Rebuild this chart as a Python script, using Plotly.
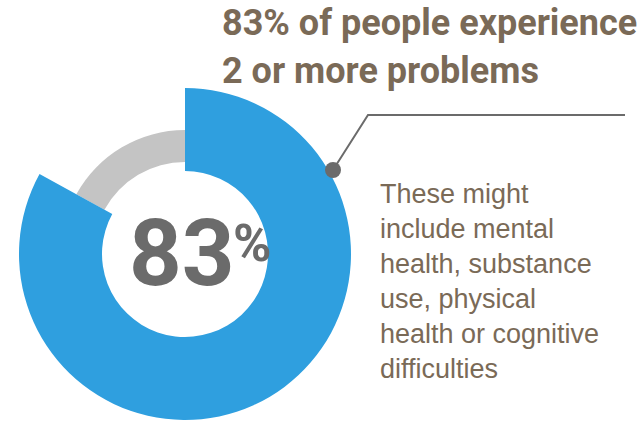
import plotly.graph_objects as go

# ---- data ----
labels = ["2 or more problems", "Other"]
values = [83, 17]
big_number = "83"
title_lines = ["83% of people experience", "2 or more problems"]
body_lines = ["These might", "include mental", "health, substance",
              "use, physical", "health or cognitive", "difficulties"]

W, H = 642, 421
BLUE = "#2f9fdf"
GREY_RING = "#c4c4c4"
NUM_GREY = "#6b6b6b"
BROWN = "#7a6a57"
CLEAR = "rgba(0,0,0,0)"


def px(x):
    return x / W


def py(y):
    return 1 - y / H


fig = go.Figure()

# grey thinner ring (remaining share)
fig.add_trace(go.Pie(
    labels=labels, values=values, sort=False, direction="clockwise", rotation=0,
    hole=92 / 124,
    domain=dict(x=[px(185 - 124), px(185 + 124)], y=[py(254 + 124), py(254 - 124)]),
    marker=dict(colors=[CLEAR, GREY_RING], line=dict(width=0)),
    textinfo="none", hoverinfo="skip", showlegend=False,
))
# blue thick ring (main share)
fig.add_trace(go.Pie(
    labels=labels, values=values, sort=False, direction="clockwise", rotation=0,
    hole=83 / 166,
    domain=dict(x=[px(185 - 166), px(185 + 166)], y=[py(254 + 166), py(254 - 166)]),
    marker=dict(colors=[BLUE, CLEAR], line=dict(width=0)),
    textinfo="none", hoverinfo="skip", showlegend=False,
))

BOLD = "Roboto, Arial, sans-serif"
BODY = "Liberation Sans, Arial, sans-serif"

ann = []
ann.append(dict(text=f"<b>{big_number}</b>", x=px(182), y=py(253.5), xanchor="center",
                yanchor="middle", showarrow=False,
                font=dict(family=BOLD, size=92, color=NUM_GREY)))
ann.append(dict(text="<b>%</b>", x=px(231), y=py(243), xanchor="left", yanchor="middle",
                showarrow=False, font=dict(family=BOLD, size=52, color=NUM_GREY)))

title_y = [23, 71]
for t, yy in zip(title_lines, title_y):
    ann.append(dict(text=f"<b>{t}</b>", x=px(220), y=py(yy), xanchor="left",
                    yanchor="middle", showarrow=False,
                    font=dict(family=BOLD, size=36, color=BROWN)))

body_y0, body_dy = 194, 35
for i, t in enumerate(body_lines):
    ann.append(dict(text=t, x=px(378), y=py(body_y0 + i * body_dy), xanchor="left",
                    yanchor="middle", showarrow=False,
                    font=dict(family=BODY, size=27, color=BROWN)))

shapes = [
    dict(type="path", xref="paper", yref="paper",
         path=f"M {px(333)},{py(170)} L {px(368)},{py(115)} L {px(625)},{py(115)}",
         line=dict(color=NUM_GREY, width=2)),
    dict(type="circle", xref="paper", yref="paper",
         x0=px(325), x1=px(341), y0=py(178), y1=py(162),
         fillcolor=NUM_GREY, line=dict(width=0)),
]

fig.update_layout(
    width=W, height=H, margin=dict(l=0, r=0, t=0, b=0),
    paper_bgcolor="white", plot_bgcolor="white",
    annotations=ann, shapes=shapes, showlegend=False,
)

fig.write_html("out.html")
